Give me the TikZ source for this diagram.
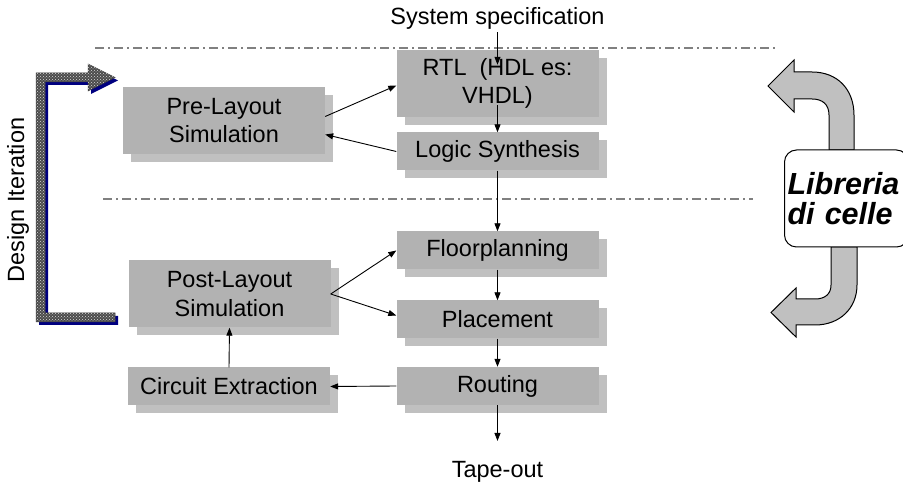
\documentclass[tikz,border=0pt]{standalone}
\usepackage{fontspec}
\setmainfont{Liberation Sans}
\usetikzlibrary{arrows.meta,shadows,patterns}
\definecolor{boxfill}{RGB}{178,178,178}
\definecolor{boxshadow}{RGB}{192,192,192}
\definecolor{iternavy}{RGB}{0,0,128}
\begin{document}
\begin{tikzpicture}[x=1pt, y=-1pt, >={Triangle[length=8pt,width=6pt]},
    every node/.style={font=\fontsize{23.5}{28.5}\selectfont},
    flowbox/.style={fill=boxfill, minimum width=202pt, minimum height=38pt, align=center, inner sep=2pt,
        general shadow={shadow xshift=8pt, shadow yshift=-8pt, fill=boxshadow}},
    tallbox/.style={flowbox, minimum height=67pt},
    link/.style={->, line width=0.9pt},
    sepline/.style={gray, line width=1.4pt, dash pattern=on 9pt off 4pt on 2pt off 4pt},
    libarrow/.style={fill=boxshadow, draw=black, line width=1pt}]
    \clip (0,0) rectangle (903,486);
    \fill[white] (0,0) rectangle (903,486);
    % Below are the two separating lines.
        \draw[sepline] (95,48) -- (778,48);
        \draw[sepline] (103,199) -- (753,199);
    % Below nodes are the flow steps.
        \node[] (spec) at (497.5,18) {System specification};
        \node[tallbox] (rtl) at (497.5,83.5) {RTL\ \ (HDL es:\\VHDL)};
        \node[flowbox] (logic) at (497.5,151.5) {Logic Synthesis};
        \node[flowbox] (floor) at (497.5,250.5) {Floorplanning};
        \node[flowbox] (place) at (497.5,319.5) {Placement};
        \node[flowbox] (route) at (497.5,386) {Routing};
        \node[] (tape) at (497.5,472) {Tape-out};
        \node[tallbox] (pre) at (224,120.5) {Pre-Layout\\Simulation};
        \node[tallbox] (post) at (229.5,294) {Post-Layout\\Simulation};
        \node[flowbox] (circ) at (229,386.5) {Circuit Extraction};
    % These draw the connectors.
        \draw[link] (spec) -- ([yshift=-15pt]rtl.north);
        \draw[link] ([yshift=12pt]rtl.south) -- (logic.north);
        \draw[link] (logic.south) -- (floor.north);
        \draw[link] (floor.south) -- (place.north);
        \draw[link] (place.south) -- (route.north);
        \draw[link] (route.south) -- ([yshift=17pt]tape.north);
        \draw[link] ([yshift=4pt]pre.east) -- ([yshift=-2pt]rtl.west);
        \draw[link] (logic.west) -- ([yshift=-14pt]pre.east);
        \draw[link] (post.east) -- (floor.west);
        \draw[link] (post.east) -- ([yshift=4pt]place.west);
        \draw[link] (route.west) -- (circ.east);
        \draw[link] (circ.north) -- (post.south);
    % This draws the design iteration arrow.
        \fill[iternavy, shift={(3,3)}] (115,322) -- (36,322) -- (36,73) -- (88,73) -- (88,64) -- (115,77.5)
            -- (88,91) -- (88,82) -- (45,82) -- (45,313) -- (115,313) -- cycle;
        \draw[black!75, line width=0.5pt, fill=black!70, postaction={pattern=crosshatch dots, pattern color=white!85!black}]
            (115,322) -- (36,322) -- (36,73) -- (88,73) -- (88,64) -- (115,77.5)
            -- (88,91) -- (88,82) -- (45,82) -- (45,313) -- (115,313) -- cycle;
        \node[rotate=90] (iter) at (18,200) {Design Iteration};
    % Below is the cell library with its two arrows.
        \draw[libarrow] (829,150) -- (829,115) .. controls (829,104) and (822,99) .. (812,99) -- (794,99)
            -- (794,112) -- (768,86) -- (794,60) -- (794,72) -- (812,72)
            .. controls (838,72) and (854,90) .. (854,115) -- (854,150) -- cycle;
        \draw[libarrow] (831,247) -- (831,285) .. controls (831,294) and (825,299) .. (815,299) -- (796,299)
            -- (796,288) -- (771,312.5) -- (796,337) -- (796,325) -- (815,325)
            .. controls (840,325) and (857,308) .. (857,285) -- (857,247) -- cycle;
        \node[draw, fill=white, line width=1pt, rounded corners=12pt, anchor=west, text width=118pt,
            align=left, inner xsep=3pt, minimum height=97pt,
            font=\fontsize{30.5}{30}\selectfont\bfseries\itshape] (lib) at (784,198.5) {Libreria\\di celle};
\end{tikzpicture}
\end{document}
